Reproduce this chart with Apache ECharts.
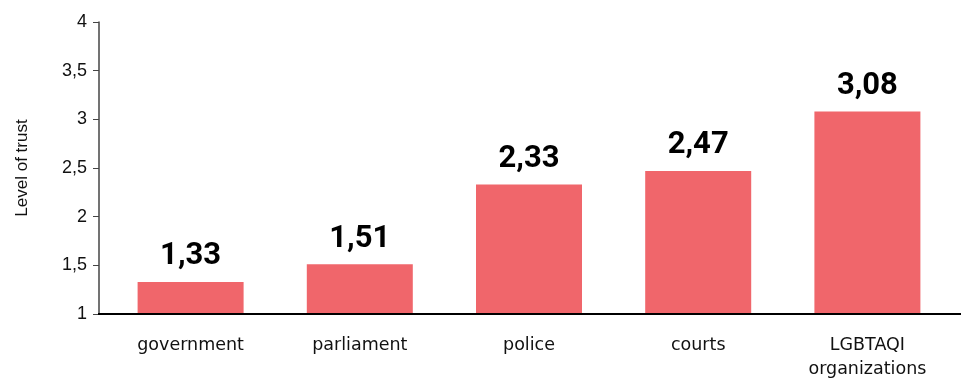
<!DOCTYPE html>
<html>
<head>
<meta charset="utf-8">
<script src="https://cdn.jsdelivr.net/npm/echarts@6/dist/echarts.min.js"></script>
<style>
  html, body { margin: 0; padding: 0; background: #ffffff; }
  #chart { width: 961px; height: 378px; }
</style>
</head>
<body>
<div id="chart"></div>
<script>
// Trust in institutions, mean level on a 1–4 scale
const categories = ['government', 'parliament', 'police', 'courts', 'LGBTAQI\norganizations'];
const trustValues = [1.33, 1.51, 2.33, 2.47, 3.08];
const yTicks = [1, 1.5, 2, 2.5, 3, 3.5, 4];

const fmt = v => String(v).replace('.', ',');

const chart = echarts.init(document.getElementById('chart'));
chart.setOption({
  animation: false,
  grid: { left: 106, right: 9, top: 22, bottom: 64, containLabel: false, outerBoundsMode: 'none' },
  xAxis: {
    type: 'category',
    data: categories,
    axisLine: { lineStyle: { color: '#000', width: 2 } },
    axisTick: { show: false },
    axisLabel: {
      color: '#111', fontSize: 17.5, fontFamily: 'DejaVu Sans', margin: 19, lineHeight: 24,
      interval: 0
    }
  },
  yAxis: {
    type: 'value',
    min: yTicks[0], max: yTicks[yTicks.length - 1], interval: 0.5,
    offset: 7,
    name: 'Level of trust',
    nameLocation: 'middle',
    nameGap: 68,
    nameRotate: 90,
    nameTextStyle: { color: '#111', fontSize: 17, fontFamily: 'Liberation Sans' },
    axisLine: { show: true, lineStyle: { color: '#444', width: 1.5 } },
    axisTick: { show: true, length: 6, inside: false, lineStyle: { color: '#444' } },
    splitLine: { show: false },
    axisLabel: {
      color: '#111', fontSize: 18, fontFamily: 'Liberation Sans', margin: 12,
      formatter: v => fmt(v)
    }
  },
  series: [{
    type: 'bar',
    data: trustValues,
    barWidth: 106,
    itemStyle: { color: '#F0666B' },
    label: {
      show: true, position: 'top', distance: 10,
      color: '#000', fontSize: 31, fontWeight: 'bold', fontFamily: 'Roboto',
      formatter: p => fmt(p.value)
    }
  }]
});

// extend the baseline to span from the value axis to the right edge
const y0 = chart.convertToPixel({ yAxisIndex: 0 }, yTicks[0]);
chart.setOption({
  graphic: [{
    type: 'line', z: 10,
    shape: { x1: 98, y1: y0, x2: 961, y2: y0 },
    style: { stroke: '#000', lineWidth: 2 }
  }]
});
</script>
</body>
</html>
